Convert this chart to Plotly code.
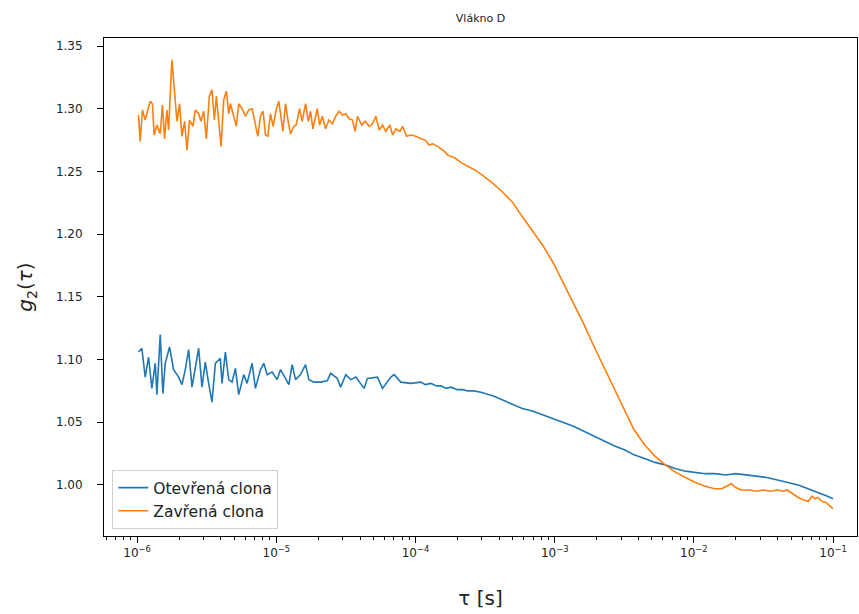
import plotly.graph_objects as go

# log10(tau) positions and g2 values
open_exp = [-5.990, -5.966, -5.942, -5.918, -5.894, -5.870, -5.858, -5.834, -5.815, -5.798,
            -5.767, -5.738, -5.702, -5.678, -5.654, -5.630, -5.606, -5.558, -5.534, -5.510,
            -5.486, -5.462, -5.438, -5.402, -5.390, -5.366, -5.342, -5.318, -5.294, -5.270,
            -5.234, -5.210, -5.174, -5.150, -5.114, -5.090, -5.066, -5.030, -4.994, -4.970,
            -4.934, -4.910, -4.886, -4.862, -4.826, -4.790, -4.766, -4.730, -4.682, -4.634,
            -4.610, -4.562, -4.538, -4.501, -4.465, -4.429, -4.369, -4.345, -4.273, -4.237,
            -4.177, -4.153, -4.105, -4.033, -3.961, -3.930, -3.889, -3.850, -3.817, -3.780,
            -3.745, -3.700, -3.660, -3.625, -3.580, -3.530, -3.440, -3.378, -3.310, -3.233,
            -3.160, -3.085, -3.010, -2.938, -2.870, -2.794, -2.720, -2.646, -2.570, -2.499,
            -2.430, -2.354, -2.280, -2.206, -2.130, -2.060, -1.990, -1.920, -1.850, -1.770,
            -1.700, -1.620, -1.550, -1.475, -1.400, -1.330, -1.250, -1.180, -1.130, -1.080,
            -1.040, -1.000]
open_g2 = [1.106, 1.109, 1.086, 1.102, 1.077, 1.097, 1.072, 1.120, 1.073, 1.097,
           1.110, 1.092, 1.086, 1.080, 1.092, 1.108, 1.078, 1.109, 1.078, 1.098,
           1.081, 1.066, 1.097, 1.101, 1.081, 1.106, 1.084, 1.082, 1.093, 1.072,
           1.088, 1.081, 1.097, 1.077, 1.092, 1.097, 1.088, 1.090, 1.084, 1.092,
           1.085, 1.080, 1.096, 1.084, 1.088, 1.096, 1.084, 1.082, 1.082, 1.083,
           1.089, 1.085, 1.078, 1.088, 1.084, 1.086, 1.077, 1.085, 1.086, 1.077,
           1.086, 1.088, 1.082, 1.081, 1.082, 1.080, 1.081, 1.079, 1.079, 1.077,
           1.078, 1.076, 1.076, 1.075, 1.075, 1.074, 1.071, 1.068, 1.065, 1.061,
           1.059, 1.056, 1.053, 1.050, 1.047, 1.043, 1.039, 1.035, 1.031, 1.028,
           1.024, 1.021, 1.018, 1.016, 1.013, 1.011, 1.010, 1.009, 1.009, 1.008,
           1.009, 1.008, 1.007, 1.006, 1.004, 1.002, 1.000, 0.997, 0.995, 0.993,
           0.991, 0.989]

closed_exp = [-5.990, -5.978, -5.962, -5.942, -5.926, -5.906, -5.890, -5.878, -5.858, -5.834,
              -5.818, -5.803, -5.786, -5.774, -5.750, -5.731, -5.714, -5.695, -5.678, -5.659,
              -5.642, -5.623, -5.599, -5.582, -5.558, -5.541, -5.522, -5.503, -5.481, -5.462,
              -5.445, -5.431, -5.414, -5.397, -5.378, -5.359, -5.342, -5.330, -5.306, -5.287,
              -5.270, -5.246, -5.222, -5.198, -5.174, -5.150, -5.133, -5.114, -5.095, -5.078,
              -5.061, -5.042, -5.023, -5.001, -4.982, -4.953, -4.934, -4.915, -4.898, -4.874,
              -4.857, -4.833, -4.814, -4.790, -4.770, -4.754, -4.737, -4.706, -4.689, -4.670,
              -4.646, -4.622, -4.597, -4.573, -4.549, -4.525, -4.501, -4.477, -4.453, -4.434,
              -4.417, -4.386, -4.362, -4.333, -4.309, -4.285, -4.261, -4.237, -4.213, -4.184,
              -4.165, -4.141, -4.112, -4.093, -4.064, -4.033, -3.997, -3.961, -3.930, -3.901,
              -3.877, -3.841, -3.792, -3.769, -3.720, -3.673, -3.620, -3.570, -3.520, -3.450,
              -3.378, -3.300, -3.233, -3.160, -3.085, -3.010, -2.938, -2.870, -2.794, -2.720,
              -2.646, -2.570, -2.499, -2.430, -2.354, -2.280, -2.206, -2.130, -2.060, -1.990,
              -1.920, -1.850, -1.800, -1.760, -1.730, -1.700, -1.660, -1.600, -1.550, -1.500,
              -1.450, -1.400, -1.360, -1.330, -1.290, -1.250, -1.210, -1.180, -1.150, -1.130,
              -1.110, -1.080, -1.050, -1.030, -1.000]
closed_g2 = [1.295, 1.274, 1.299, 1.291, 1.298, 1.306, 1.304, 1.279, 1.287, 1.280,
             1.303, 1.276, 1.299, 1.283, 1.339, 1.312, 1.290, 1.304, 1.278, 1.290,
             1.267, 1.291, 1.286, 1.299, 1.296, 1.290, 1.298, 1.276, 1.310, 1.315,
             1.291, 1.310, 1.292, 1.270, 1.307, 1.314, 1.296, 1.304, 1.294, 1.286,
             1.304, 1.300, 1.294, 1.299, 1.300, 1.287, 1.278, 1.294, 1.298, 1.279,
             1.278, 1.296, 1.286, 1.299, 1.306, 1.282, 1.304, 1.290, 1.280, 1.286,
             1.287, 1.300, 1.290, 1.304, 1.290, 1.298, 1.284, 1.300, 1.287, 1.294,
             1.284, 1.291, 1.288, 1.294, 1.298, 1.295, 1.296, 1.292, 1.291, 1.282,
             1.294, 1.287, 1.290, 1.286, 1.288, 1.294, 1.283, 1.287, 1.282, 1.287,
             1.279, 1.284, 1.282, 1.286, 1.278, 1.279, 1.278, 1.276, 1.275, 1.271,
             1.272, 1.270, 1.266, 1.263, 1.261, 1.257, 1.254, 1.251, 1.247, 1.241,
             1.234, 1.225, 1.214, 1.203, 1.191, 1.177, 1.161, 1.146, 1.129, 1.111,
             1.094, 1.076, 1.059, 1.044, 1.032, 1.023, 1.016, 1.010, 1.006, 1.002,
             0.999, 0.997, 0.997, 0.999, 1.001, 0.998, 0.996, 0.996, 0.995, 0.996,
             0.995, 0.996, 0.995, 0.996, 0.993, 0.990, 0.988, 0.987, 0.991, 0.989,
             0.990, 0.987, 0.986, 0.984, 0.981]

series_names = ["Otevřená clona", "Zavřená clona"]
series_colors = ["#1f77b4", "#ff7f0e"]
y_ticks = [1.00, 1.05, 1.10, 1.15, 1.20, 1.25, 1.30, 1.35]
x_tick_exps = [-6, -5, -4, -3, -2, -1]
x_tick_text = ["10<sup>\u2212%d</sup>" % (-e) for e in x_tick_exps]

fig = go.Figure()
for exps, vals, name, col in [(open_exp, open_g2, series_names[0], series_colors[0]),
                              (closed_exp, closed_g2, series_names[1], series_colors[1])]:
    fig.add_trace(go.Scatter(x=[10 ** e for e in exps], y=vals, mode="lines", name=name,
                             line=dict(color=col, width=1.6)))

font_family = "DejaVu Sans"
fig.update_layout(
    width=859, height=614,
    margin=dict(l=104, r=2, t=38, b=78),
    paper_bgcolor="white", plot_bgcolor="white",
    font=dict(family=font_family, size=12, color="#222"),
    title=dict(text="Vlákno D", x=0.5, xref="paper", xanchor="center",
               y=1 - 18 / 614, yanchor="middle", font=dict(size=11, color="#222")),
    showlegend=True,
    legend=dict(x=0.011, y=0.014, xanchor="left", yanchor="bottom",
                bordercolor="#d0d0d0", borderwidth=1, bgcolor="rgba(255,255,255,0.8)",
                font=dict(size=15.5, color="#222"), tracegroupgap=0),
)
fig.update_xaxes(
    type="log", range=[-6.238, -0.828], automargin=False,
    tickvals=[10 ** e for e in x_tick_exps], ticktext=x_tick_text,
    showline=True, linecolor="black", linewidth=1, mirror=True,
    ticks="outside", ticklen=6, tickcolor="black", showgrid=False, zeroline=False,
    tickfont=dict(size=12),
    minor=dict(ticks="outside", ticklen=3, tickcolor="black", dtick="D1", showgrid=False),
    title=dict(text="τ [s]", font=dict(size=20, color="#222"), standoff=31),
)
fig.update_yaxes(
    range=[0.9593, 1.3564], tickvals=y_ticks, tickformat=".2f", automargin=False,
    showline=True, linecolor="black", linewidth=1, mirror=True,
    ticks="outside", ticklen=6, tickcolor="black", showgrid=False, zeroline=False,
    tickfont=dict(size=12), ticklabelstandoff=12,
    title=dict(text="<i>g</i><sub>2</sub>(<i>τ</i>)", font=dict(size=20, color="#222"), standoff=17),
)
fig.write_html("out.html", config={"displayModeBar": False},
               post_script="document.body.style.margin='0';document.body.style.overflow='hidden';")
